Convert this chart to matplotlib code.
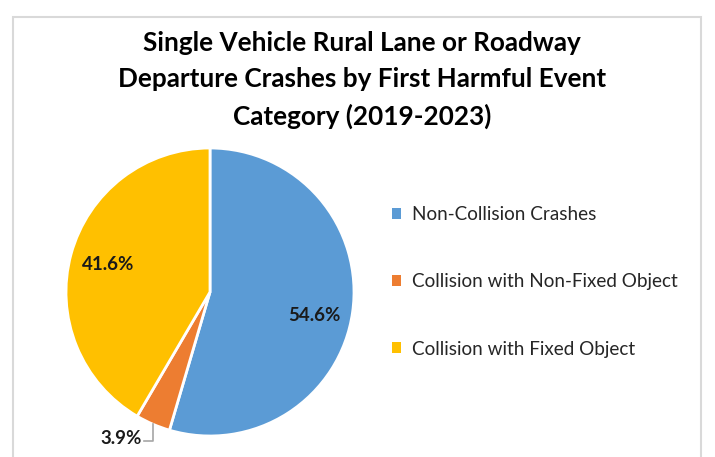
import numpy as np
import matplotlib
matplotlib.use("Agg")
import matplotlib.pyplot as plt
from matplotlib.patches import Rectangle, Patch

plt.rcParams['font.family'] = ['Lato', 'DejaVu Sans']

title = "Single Vehicle Rural Lane or Roadway\nDeparture Crashes by First Harmful Event\nCategory (2019-2023)"
categories = ["Non-Collision Crashes", "Collision with Non-Fixed Object", "Collision with Fixed Object"]
values = [54.6, 3.9, 41.6]
labels = ["54.6%", "3.9%", "41.6%"]
colors = ["#5B9BD5", "#ED7D31", "#FFC000"]

W, H = 715, 457
fig = plt.figure(figsize=(W / 100, H / 100), dpi=100)

# chart border
fig.patches.append(Rectangle((13 / W, -0.05), (W - 14) / W - 13 / W, 1 - 17 / H + 0.05,
                             transform=fig.transFigure, fill=False,
                             edgecolor="#D9D9D9", linewidth=1.5))

fig.text(362 / W, 1 - 80 / H, title, ha="center", va="center", fontsize=18.8,
         fontweight="bold", linespacing=1.58, color="black")

r = 144
cx, cy = 210, 292
ax = fig.add_axes([(cx - r) / W, (H - cy - r) / H, 2 * r / W, 2 * r / H])
wedges, _ = ax.pie(values, colors=colors, startangle=90, counterclock=False,
                   wedgeprops=dict(edgecolor="white", linewidth=2))
ax.set_xlim(-1, 1)
ax.set_ylim(-1, 1)
ax.set_aspect("equal")
ax.axis("off")

for w, lab, v in zip(wedges, labels, values):
    th = np.deg2rad((w.theta1 + w.theta2) / 2)
    if v > 10:
        d = 0.73
        ax.text(d * np.cos(th), d * np.sin(th) - 0.06 * (np.cos(th) > 0), lab,
                ha="center", va="center", fontsize=13.5, fontweight="bold", color="#1a1a1a")
    else:
        px, py = np.cos(th), np.sin(th)
        ex, ey = px, py - 0.12
        fx, fy = ex - 0.06, ey
        ax.plot([px, ex, fx], [py, ey, fy], color="#A6A6A6", lw=1.2, clip_on=False)
        ax.text(fx - 0.02, fy + 0.02, lab, ha="right", va="center", fontsize=13.5,
                fontweight="bold", color="#1a1a1a", clip_on=False)

handles = [Patch(facecolor=c, edgecolor="none") for c in colors]
fig.legend(handles, categories, loc="center left", bbox_to_anchor=(375 / W, 1 - 282 / H),
           frameon=False, fontsize=13.6, labelspacing=2.65, handlelength=0.5,
           handleheight=0.5, handletextpad=0.55, labelcolor="#262626")

fig.savefig("out.png", dpi=100)
